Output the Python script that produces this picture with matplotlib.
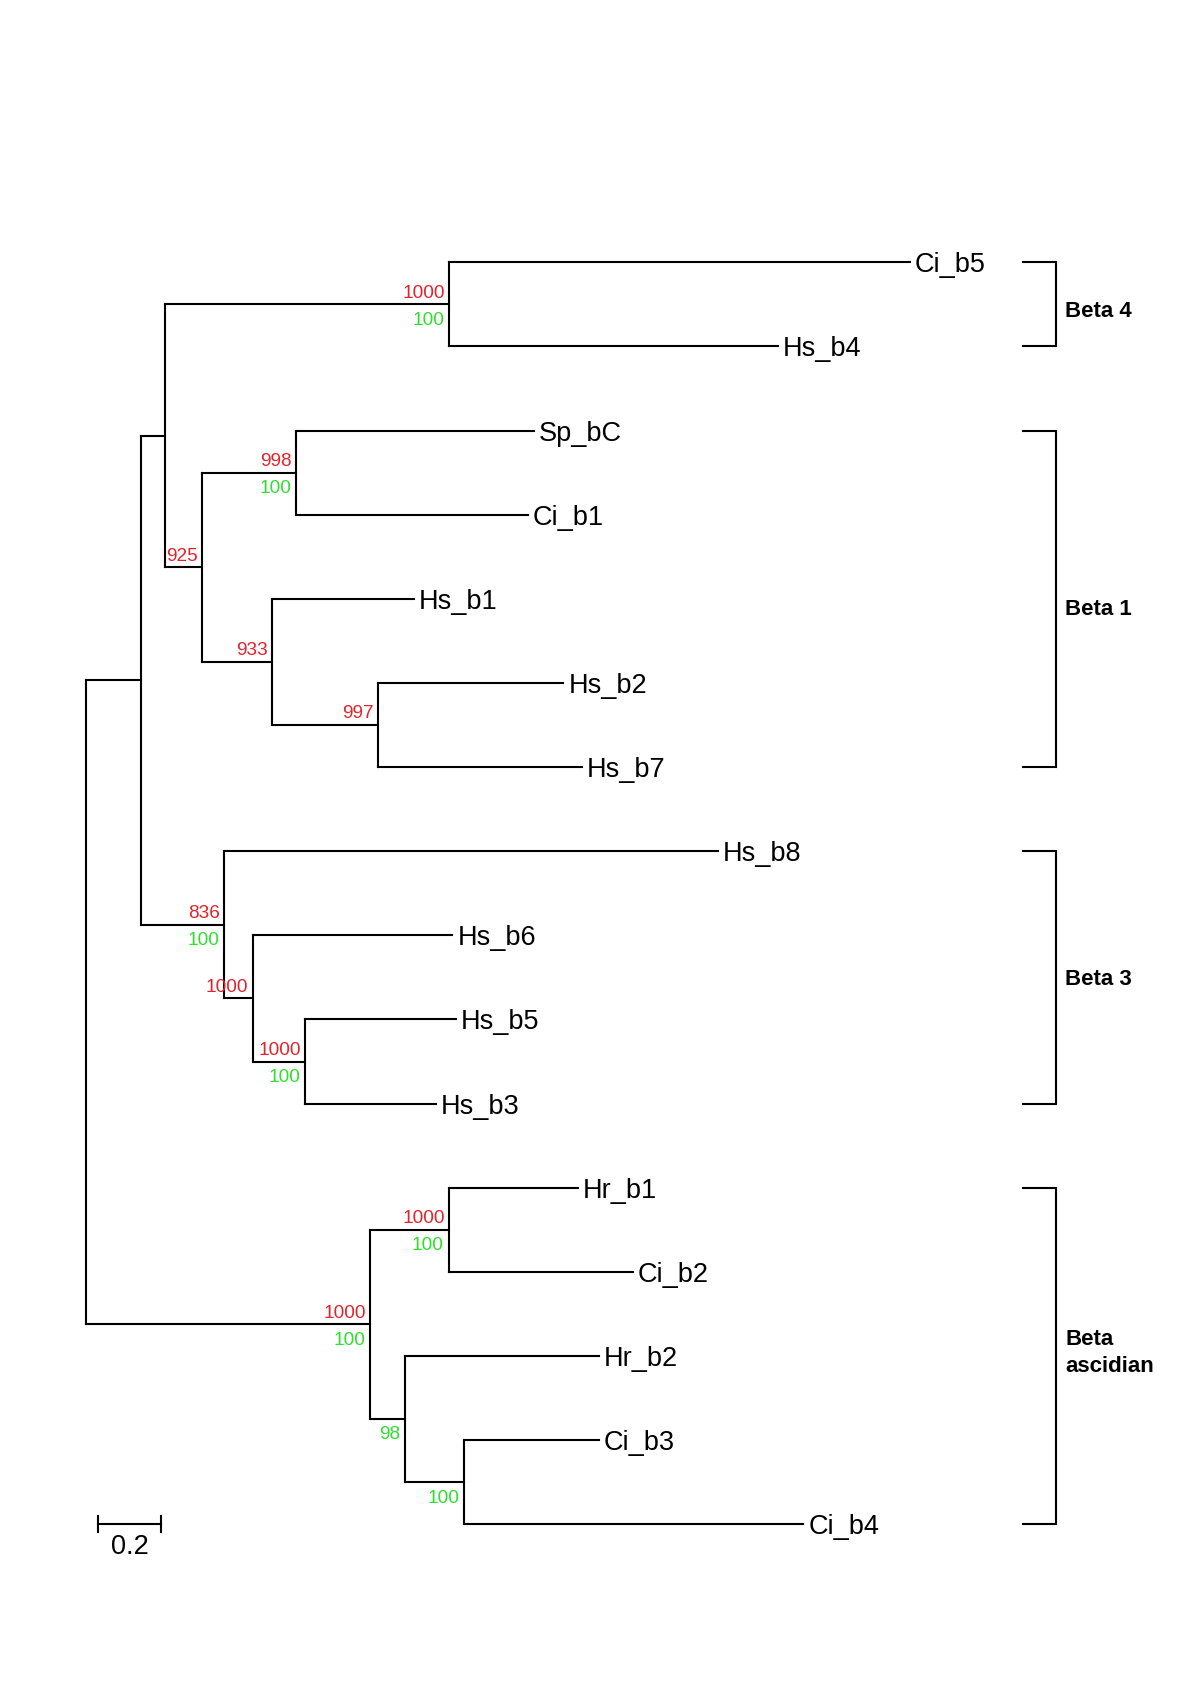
import matplotlib
matplotlib.use("Agg")
import matplotlib.pyplot as plt

# ---------------- data: tree topology, branch lengths, supports ----------------
labels = ["", "", "", "", "Ci_b5", "Hs_b4", "", "", "Sp_bC", "Ci_b1",
          "", "Hs_b1", "", "Hs_b2", "Hs_b7", "", "Hs_b8", "", "Hs_b6", "",
          "Hs_b5", "Hs_b3", "", "", "Hr_b1", "Ci_b2", "", "Hr_b2", "", "Ci_b3",
          "Ci_b4"]
parent = [-1, 0, 1, 2, 3, 3, 2, 6, 7, 7,
          6, 10, 10, 12, 12, 1, 15, 15, 17, 17,
          19, 19, 0, 22, 23, 23, 22, 26, 26, 28,
          28]
branch_length = [0.0, 0.174, 0.078, 0.911, 1.479, 1.055, 0.118, 0.302, 0.764, 0.745,
                 0.225, 0.456, 0.339, 0.596, 0.655, 0.268, 1.585, 0.091, 0.641, 0.169,
                 0.482, 0.419, 0.910, 0.252, 0.414, 0.590, 0.112, 0.623, 0.190, 0.433,
                 1.088]
support_red = [None, None, None, 1000, None, None, 925, 998, None, None,
               933, None, 997, None, None, 836, None, 1000, None, 1000,
               None, None, 1000, 1000, None, None, None, None, None, None,
               None]
support_green = [None, None, None, 100, None, None, None, 100, None, None,
                 None, None, None, None, None, 100, None, None, None, 100,
                 None, None, 100, 100, None, None, 98, None, 100, None,
                 None]

group_names = ["Beta 4", "Beta 1", "Beta 3", "Beta\nascidian"]
group_first = ["Ci_b5", "Sp_bC", "Hs_b8", "Hr_b1"]
group_last = ["Hs_b4", "Hs_b7", "Hs_b3", "Ci_b4"]

scale_bar_length = 0.2
scale_bar_label = "0.2"

# ---------------- layout computation ----------------
n = len(labels)
children = [[] for _ in range(n)]
for i, p in enumerate(parent):
    if p >= 0:
        children[p].append(i)

xpos = [0.0] * n
for i in range(n):
    if parent[i] >= 0:
        xpos[i] = xpos[parent[i]] + branch_length[i]

ypos = [0.0] * n
leaf_idx = 0
for i in range(n):
    if not children[i]:
        ypos[i] = leaf_idx
        leaf_idx += 1
for i in reversed(range(n)):
    if children[i]:
        ypos[i] = sum(ypos[c] for c in children[i]) / len(children[i])

name_to_idx = {labels[i]: i for i in range(n) if labels[i]}

# ---------------- drawing ----------------
FONT = ["Liberation Sans", "DejaVu Sans"]
RED = "#e3232b"
GREEN = "#2ee02e"
LW = 1.5

fig = plt.figure(figsize=(12, 16.98), dpi=100)
ax = fig.add_axes([0, 0, 1, 1])
ax.set_xlim(-0.2775, 3.5723)
ax.set_ylim(17.065, -3.118)
ax.axis("off")

for i in range(n):
    if parent[i] >= 0:
        ax.plot([xpos[parent[i]], xpos[i]], [ypos[i], ypos[i]], color="black",
                lw=LW, solid_capstyle="projecting")
    if children[i]:
        ys = [ypos[c] for c in children[i]]
        ax.plot([xpos[i], xpos[i]], [min(ys), max(ys)], color="black",
                lw=LW, solid_capstyle="projecting")

for i in range(n):
    if not children[i]:
        ax.annotate(labels[i], (xpos[i], ypos[i]), xytext=(3.5, 0),
                    textcoords="offset points", ha="left", va="center_baseline",
                    fontsize=19.5, family=FONT, color="black")
    if support_red[i] is not None:
        ax.annotate(str(support_red[i]), (xpos[i], ypos[i]), xytext=(-3, 9.5),
                    textcoords="offset points", ha="right", va="center_baseline",
                    fontsize=13.7, family=FONT, color=RED)
    if support_green[i] is not None:
        ax.annotate(str(support_green[i]), (xpos[i], ypos[i]), xytext=(-3.5, -10),
                    textcoords="offset points", ha="right", va="center_baseline",
                    fontsize=13.7, family=FONT, color=GREEN)

# group brackets
x_tick, x_bar, x_text = 3.003, 3.109, 3.140
label_dy = [-3.2, -6.2, 0.0, 2.0]   # small vertical nudges (points) of the group labels
for name, a, b, dy in zip(group_names, group_first, group_last, label_dy):
    y0, y1 = ypos[name_to_idx[a]], ypos[name_to_idx[b]]
    ax.plot([x_tick, x_bar, x_bar, x_tick], [y0, y0, y1, y1], color="black",
            lw=LW, solid_joinstyle="miter")
    ax.annotate(name, (x_text, (y0 + y1) / 2), xytext=(0, dy),
                textcoords="offset points", ha="left",
                va="center" if "\n" in name else "center_baseline",
                fontsize=16, fontweight="bold", family=FONT, linespacing=1.35)

# scale bar
sb_x0 = 0.038
sb_y = ypos[name_to_idx["Ci_b4"]]
ax.plot([sb_x0, sb_x0 + scale_bar_length], [sb_y, sb_y], color="black", lw=LW)
for xx in (sb_x0, sb_x0 + scale_bar_length):
    ax.plot([xx, xx], [sb_y - 0.095, sb_y + 0.095], color="black", lw=LW)
ax.annotate(scale_bar_label, (sb_x0 + scale_bar_length / 2, sb_y), xytext=(0, -14.5),
            textcoords="offset points", ha="center", va="center_baseline",
            fontsize=19.5, family=FONT)

fig.savefig("out.png", dpi=100, facecolor="white")
